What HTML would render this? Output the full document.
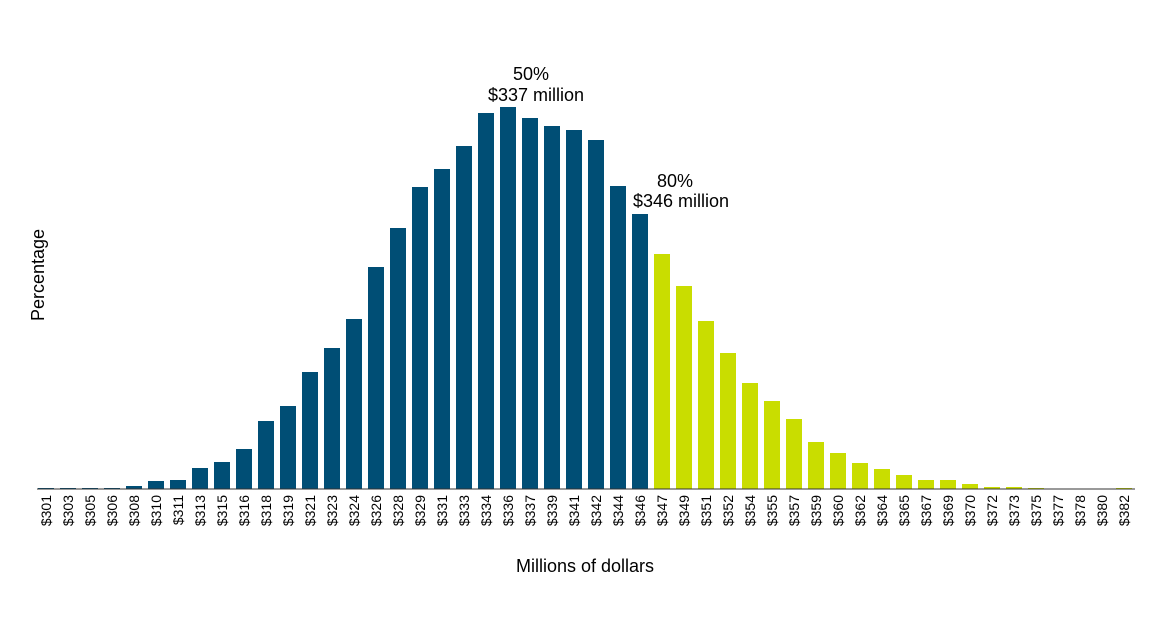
<!DOCTYPE html>
<html><head><meta charset="utf-8"><style>
body{margin:0;background:#fff;font-family:"Liberation Sans",Arial,sans-serif}
svg text{font-family:"Liberation Sans",Arial,sans-serif;fill:#000}
</style></head><body>
<svg id="chart" width="1170" height="628" viewBox="0 0 1170 628" xmlns="http://www.w3.org/2000/svg">
<g id="bars"></g>
<g id="xlabels"></g>
<line x1="37" y1="489" x2="1135" y2="489" stroke="#333" stroke-width="1"/>
<text transform="translate(44,275) rotate(-90)" text-anchor="middle" font-size="18">Percentage</text>
<text x="585" y="572" text-anchor="middle" font-size="18">Millions of dollars</text>
<text x="531" y="80" text-anchor="middle" font-size="18">50%</text>
<text x="536" y="101" text-anchor="middle" font-size="18">$337 million</text>
<text x="675" y="187" text-anchor="middle" font-size="18">80%</text>
<text x="681" y="207" text-anchor="middle" font-size="18">$346 million</text>
</svg>
<script>
const categories = ["$301","$303","$305","$306","$308","$310","$311","$313","$315","$316","$318","$319","$321","$323","$324","$326","$328","$329","$331","$333","$334","$336","$337","$339","$341","$342","$344","$346","$347","$349","$351","$352","$354","$355","$357","$359","$360","$362","$364","$365","$367","$369","$370","$372","$373","$375","$377","$378","$380","$382"];
const values = [0.01,0.01,0.01,0.01,0.03,0.08,0.09,0.21,0.27,0.40,0.68,0.83,1.17,1.41,1.70,2.22,2.61,3.02,3.20,3.43,3.76,3.82,3.71,3.63,3.59,3.49,3.03,2.75,2.35,2.03,1.68,1.36,1.06,0.88,0.70,0.47,0.36,0.26,0.20,0.14,0.09,0.09,0.05,0.02,0.02,0.01,0.005,0.005,0.003,0.01];
const highlightFrom = 28;
const NS="http://www.w3.org/2000/svg";
const x0=46, step=22.0, bw=16, base=489, pxPerUnit=100;
const xScale=i=>x0+i*step;
const yScale=v=>base-v*pxPerUnit;
const gb=document.getElementById('bars'), gl=document.getElementById('xlabels');
categories.forEach((c,i)=>{
  const r=document.createElementNS(NS,'rect');
  
  
  const y=yScale(values[i]);
  r.setAttribute('x',xScale(i)-bw/2);r.setAttribute('y',y);
  r.setAttribute('width',bw);r.setAttribute('height',base-y);
  r.setAttribute('fill',i>=highlightFrom?'#c9dd00':'#004e75');
  gb.appendChild(r);
  const t=document.createElementNS(NS,'text');
  
  
  t.setAttribute('transform','translate('+(xScale(i)+5)+',495) rotate(-90)');
  t.setAttribute('text-anchor','end');t.setAttribute('font-size','14');
  t.textContent=c;gl.appendChild(t);
});
</script>
</body></html>
